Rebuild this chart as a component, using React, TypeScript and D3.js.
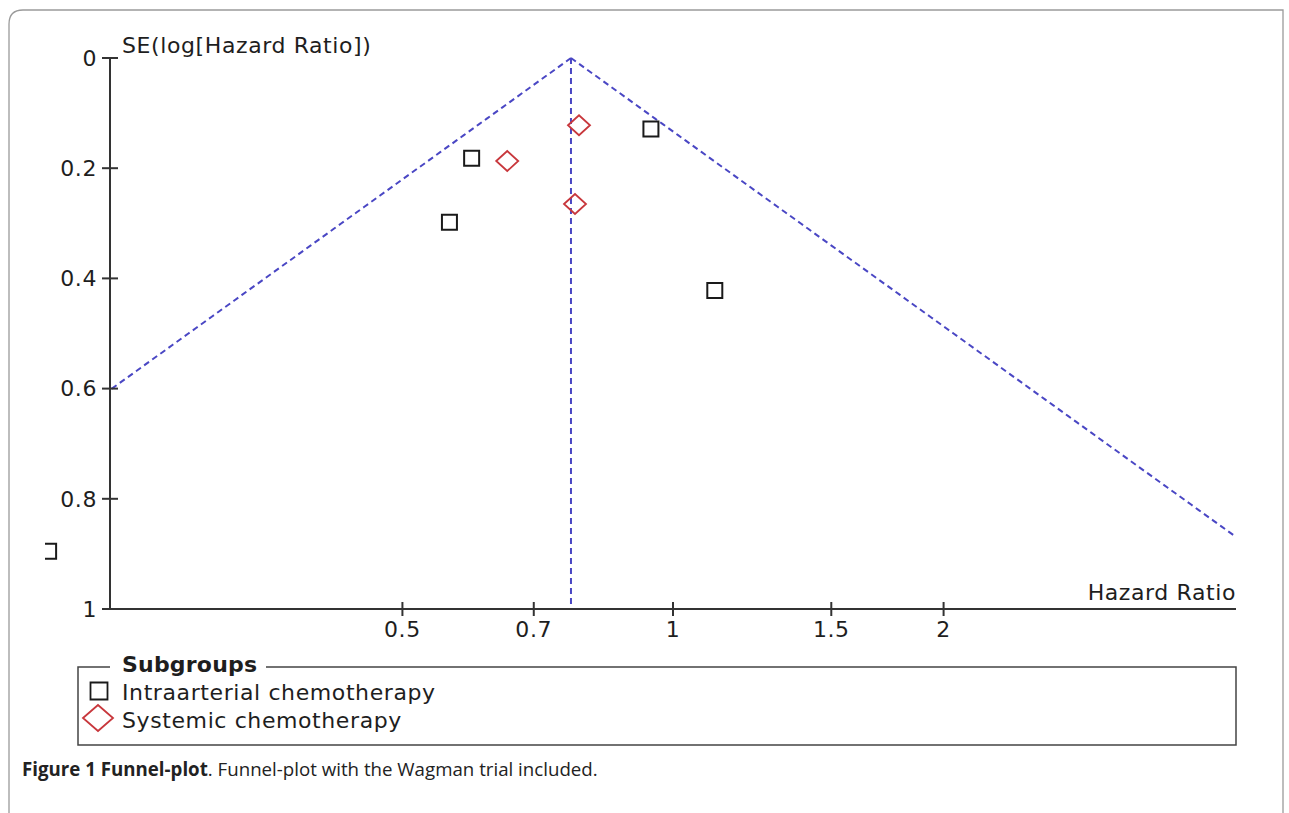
import React from 'react';
import * as d3 from 'd3';

// study estimates
const intraHR = [0.597, 0.564, 0.945, 1.113, 0.202];
const intraSE = [0.182, 0.298, 0.129, 0.422, 0.895];
const systHR = [0.786, 0.654, 0.778];
const systSE = [0.122, 0.187, 0.265];
const pooledHR = 0.77;

const xTicks = [0.5, 0.7, 1, 1.5, 2];
const yTicks = [0, 0.2, 0.4, 0.6, 0.8, 1];
const legendItems = ['Intraarterial chemotherapy', 'Systemic chemotherapy'];

const FONT = "'DejaVu Sans', sans-serif";

export default function App() {
  const width = 1289;
  const height = 813;
  const left = 110;
  const right = 1236;
  const top = 58;
  const bottom = 609;

  const x = d3.scaleLog().domain([0.2364, 4.23]).range([left, right]);
  const y = d3.scaleLinear().domain([0, 1]).range([top, bottom]);

  // funnel limits: log(HR) +/- 1.96 * SE, clipped to the plot area
  const seSteps = d3.range(0, 1.0001, 0.01);
  const funnel = (sign: number) =>
    d3
      .line<number>()
      .x((se) => x(Math.exp(Math.log(pooledHR) + sign * 1.96 * se)))
      .y((se) => y(se))(seSteps) as string;

  const square = (cx: number, cy: number, s: number) =>
    `M${cx - s / 2},${cy - s / 2}h${s}v${s}h${-s}Z`;
  const diamond = (cx: number, cy: number, w: number, h: number) =>
    `M${cx - w / 2},${cy}L${cx},${cy - h / 2}L${cx + w / 2},${cy}L${cx},${cy + h / 2}Z`;

  const dashColor = '#4a47c4';
  const red = '#c8373c';
  const textStyle = { fontFamily: FONT, fontSize: 22, letterSpacing: 0.6 };

  return (
    <svg
      width={width}
      height={height}
      style={{ position: 'absolute', left: 0, top: 0, background: '#fff' }}
      xmlns="http://www.w3.org/2000/svg"
    >
      <defs>
        <clipPath id="plot-clip">
          <rect x={left} y={top - 2} width={right - left} height={bottom - top + 2} />
        </clipPath>
        <clipPath id="marker-clip">
          <rect x={45} y={0} width={width} height={height} />
        </clipPath>
      </defs>

      {/* outer frame */}
      <path
        d={`M9,${height + 5}V24Q9,10 23,10H1283V${height + 5}`}
        fill="none"
        stroke="#9a9a9a"
        strokeWidth={1.3}
      />

      {/* funnel + pooled line */}
      <g clipPath="url(#plot-clip)" fill="none" stroke={dashColor} strokeWidth={2} strokeDasharray="6,4">
        <path d={funnel(-1)} />
        <path d={funnel(1)} />
        <line x1={x(pooledHR)} x2={x(pooledHR)} y1={y(0)} y2={y(1)} />
      </g>

      {/* axes */}
      <g stroke="#333" strokeWidth={2} fill="none">
        <line x1={left} x2={left} y1={top} y2={bottom} />
        <line x1={left} x2={right} y1={bottom} y2={bottom} />
        {yTicks.map((t) => (
          <line key={`yt-${t}`} x1={left - 8} x2={t === 1 ? left : left + 8} y1={y(t)} y2={y(t)} />
        ))}
        {xTicks.map((t) => (
          <line key={`xt-${t}`} x1={x(t)} x2={x(t)} y1={bottom - 7} y2={bottom + 7} />
        ))}
      </g>
      <g style={textStyle} fill="#1e1e1e">
        {yTicks.map((t) => (
          <text key={`yl-${t}`} x={left - 13} y={y(t)} dy="0.35em" textAnchor="end">
            {t === 0 || t === 1 ? String(t) : t.toFixed(1)}
          </text>
        ))}
        {xTicks.map((t) => (
          <text key={`xl-${t}`} x={x(t)} y={bottom + 20} dy="0.35em" textAnchor="middle">
            {String(t)}
          </text>
        ))}
        <text x={122} y={53}>SE(log[Hazard Ratio])</text>
        <text x={right} y={600} textAnchor="end">Hazard Ratio</text>
      </g>

      {/* study markers */}
      <g clipPath="url(#marker-clip)" fill="none">
        {intraHR.map((hr, i) => (
          <path key={`sq-${i}`} d={square(x(hr), y(intraSE[i]), 15)} stroke="#1a1a1a" strokeWidth={2} />
        ))}
        {systHR.map((hr, i) => (
          <path key={`dm-${i}`} d={diamond(x(hr), y(systSE[i]), 22, 20)} stroke={red} strokeWidth={1.8} />
        ))}
      </g>

      {/* legend */}
      <path
        d={`M110,667H78V745H1236V667H266`}
        fill="none"
        stroke="#444"
        strokeWidth={1.5}
      />
      <g style={textStyle} fill="#1e1e1e">
        <text x={122} y={672} fontWeight="bold" letterSpacing={0.2}>Subgroups</text>
        <path d={square(99, 691, 17)} fill="none" stroke="#1a1a1a" strokeWidth={1.8} />
        <text x={122} y={700}>{legendItems[0]}</text>
        <path d={diamond(98, 718, 30, 26)} fill="none" stroke={red} strokeWidth={1.8} />
        <text x={122} y={728}>{legendItems[1]}</text>
      </g>

      {/* caption */}
      <text x={22} y={776} style={{ fontFamily: "'Open Sans', sans-serif", fontSize: 18.7 }} fill="#222">
        <tspan fontWeight="bold">Figure 1 Funnel-plot</tspan>
        <tspan>. Funnel-plot with the Wagman trial included.</tspan>
      </text>
    </svg>
  );
}
